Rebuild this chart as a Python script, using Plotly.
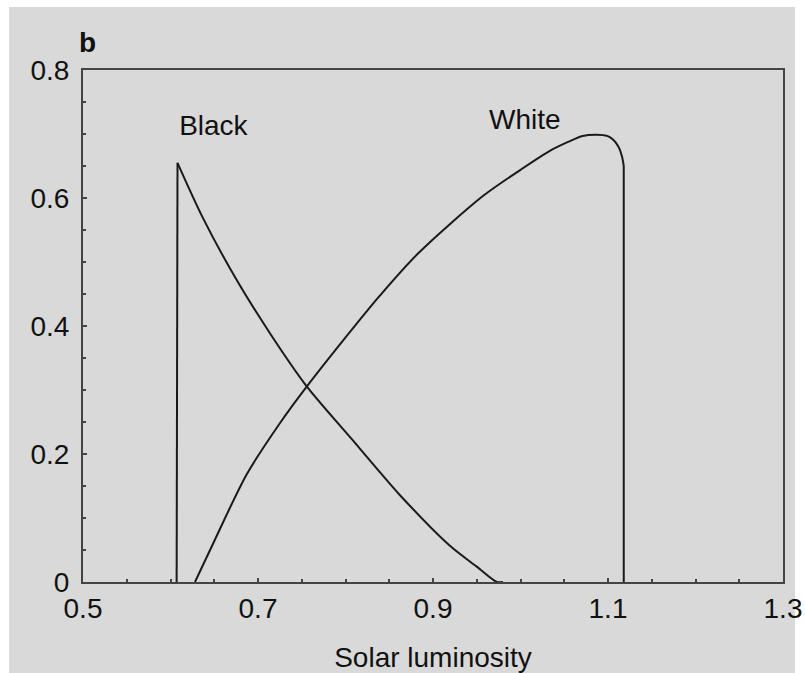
import plotly.graph_objects as go

# Daisy cover vs solar luminosity
black_x = [0.607, 0.608, 0.637, 0.676, 0.714, 0.755, 0.808, 0.839, 0.862, 0.919, 0.950, 0.973, 0.980]
black_y = [0.0, 0.655, 0.569, 0.471, 0.388, 0.307, 0.222, 0.172, 0.136, 0.057, 0.024, 0.0, 0.0]

white_x = [0.628, 0.649, 0.687, 0.725, 0.755, 0.813, 0.839, 0.882, 0.957, 1.000, 1.034, 1.055,
           1.071, 1.087, 1.099, 1.106, 1.112, 1.116, 1.118, 1.118]
white_y = [0.0, 0.061, 0.168, 0.248, 0.304, 0.404, 0.447, 0.512, 0.603, 0.644, 0.674, 0.688,
           0.697, 0.699, 0.697, 0.691, 0.680, 0.665, 0.650, 0.0]

labels = ["Black", "White"]
label_x = [0.649, 1.005]
label_y = [0.710, 0.718]

FONT = "Liberation Sans, Arial, sans-serif"
LINE = "#1a1a1a"
GREY = "#d9d9d9"

fig = go.Figure()
# vertical edges (straight)
fig.add_trace(go.Scatter(x=black_x[:2], y=black_y[:2], mode="lines",
                         line=dict(color=LINE, width=2), showlegend=False))
fig.add_trace(go.Scatter(x=white_x[-2:], y=white_y[-2:], mode="lines",
                         line=dict(color=LINE, width=2), showlegend=False))
# smooth curves
fig.add_trace(go.Scatter(x=black_x[1:], y=black_y[1:], mode="lines",
                         line=dict(color=LINE, width=2, shape="spline", smoothing=0.8),
                         showlegend=False))
fig.add_trace(go.Scatter(x=white_x[:-1], y=white_y[:-1], mode="lines",
                         line=dict(color=LINE, width=2, shape="spline", smoothing=0.8),
                         showlegend=False))
fig.add_trace(go.Scatter(x=label_x, y=label_y, mode="text", text=labels,
                         textfont=dict(family=FONT, size=28, color="#111"),
                         showlegend=False))

fig.add_shape(type="rect", xref="paper", yref="paper",
              x0=-0.1057, x1=1.0171, y0=-0.178, y1=1.123,
              fillcolor=GREY, line=dict(width=0), layer="below")

fig.add_annotation(text="<b>b</b>", xref="paper", yref="paper", x=-0.008, y=1.053,
                   xanchor="left", yanchor="middle", showarrow=False,
                   font=dict(family=FONT, size=28, color="#111"))

axis_common = dict(showline=True, linecolor="#444", linewidth=2, mirror=True,
                   showgrid=False, zeroline=False, ticks="inside", ticklen=4,
                   tickcolor="#444", tickwidth=1.5, automargin=False,
                   tickfont=dict(family=FONT, size=28, color="#111"))

fig.update_layout(
    width=805, height=673,
    margin=dict(l=83, r=22, t=70, b=91),
    paper_bgcolor="white", plot_bgcolor=GREY,
    xaxis=dict(range=[0.5, 1.3], tick0=0.5, dtick=0.2,
               minor=dict(dtick=0.05, ticks="inside", ticklen=3, tickcolor="#444"),
               title=dict(text="Solar luminosity", standoff=26,
                          font=dict(family=FONT, size=28, color="#111")),
               **axis_common),
    yaxis=dict(range=[0, 0.8], tick0=0, dtick=0.2,
               minor=dict(dtick=0.05, ticks="inside", ticklen=3, tickcolor="#444"),
               ticklabelstandoff=6,
               **axis_common),
)

fig.write_html("out.html")
